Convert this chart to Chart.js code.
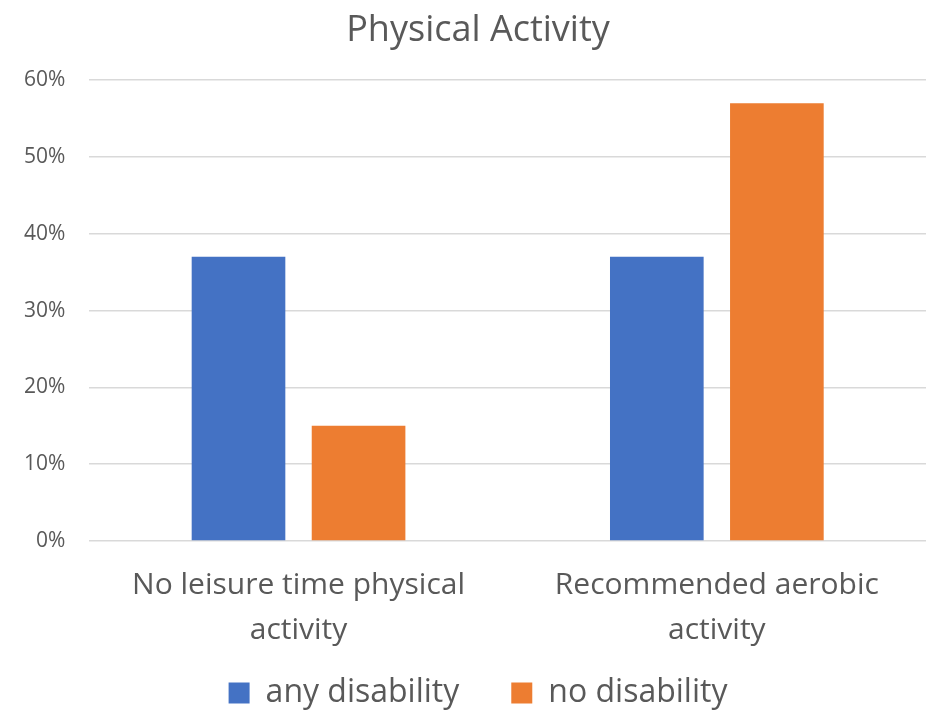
<!DOCTYPE html>
<html>
<head>
<meta charset="utf-8">
<script src="https://cdn.jsdelivr.net/npm/chart.js@4"></script>
<style>
  html, body { margin: 0; padding: 0; background: #ffffff; }
  #wrap { width: 929px; height: 713px; }
</style>
</head>
<body>
<div id="wrap"><canvas id="chart" width="929" height="713"></canvas></div>
<script>
const categories = [["No leisure time physical", "activity"], ["Recommended aerobic", "activity"]];
const anyDisability = [0.37, 0.37];
const noDisability = [0.15, 0.57];
const seriesNames = ["any disability", "no disability"];

const FONT = "'Open Sans', 'DejaVu Sans', sans-serif";
const TEXT = "#595959";

// Nudge the title and legend rows slightly right of the canvas centre,
// and drop the legend a few pixels.
const blockShift = {
  id: "blockShift",
  afterLayout(chart) {
    const lg = chart.legend;
    if (lg) { lg.left += 15; lg.right += 15; lg.top += 6; lg.bottom += 6; }
    const tb = chart.titleBlock;
    if (tb) { tb.left += 15; tb.right += 15; }
  }
};

new Chart(document.getElementById("chart"), {
  type: "bar",
  data: {
    labels: categories,
    datasets: [
      { label: seriesNames[0], data: anyDisability, backgroundColor: "#4472C4", categoryPercentage: 0.574, barPercentage: 0.78 },
      { label: seriesNames[1], data: noDisability, backgroundColor: "#ED7D31", categoryPercentage: 0.574, barPercentage: 0.78 }
    ]
  },
  plugins: [blockShift],
  options: {
    responsive: false,
    animation: false,
    layout: { padding: { left: 0, right: 3, top: 9, bottom: 0 } },
    plugins: {
      title: {
        display: true,
        text: "Physical Activity",
        color: TEXT,
        font: { family: FONT, size: 36, weight: "normal" },
        padding: { top: 0, bottom: 28 }
      },
      legend: {
        position: "bottom",
        labels: {
          color: TEXT,
          font: { family: FONT, size: 32, lineHeight: 1.0 },
          boxWidth: 21,
          boxHeight: 21,
          padding: 4,
          // wider spacing after each entry
          generateLabels(chart) {
            const items = Chart.defaults.plugins.legend.labels.generateLabels(chart);
            items.forEach((it, i) => { if (i < items.length - 1) it.text = it.text + "\u2003\u2002"; });
            return items;
          }
        }
      },
      tooltip: { enabled: false }
    },
    scales: {
      x: {
        grid: { display: false },
        border: { display: false },
        ticks: { color: TEXT, font: { family: FONT, size: 30, lineHeight: 1.5 }, padding: 14, maxRotation: 0 }
      },
      y: {
        min: 0,
        max: 0.6,
        grid: { color: "#d9d9d9", lineWidth: 1.5, drawTicks: false },
        border: { display: false },
        ticks: {
          stepSize: 0.1,
          color: TEXT,
          padding: 24,
          font: { family: FONT, size: 21 },
          callback: v => Math.round(v * 100) + "%"
        }
      }
    }
  }
});
</script>
</body>
</html>
